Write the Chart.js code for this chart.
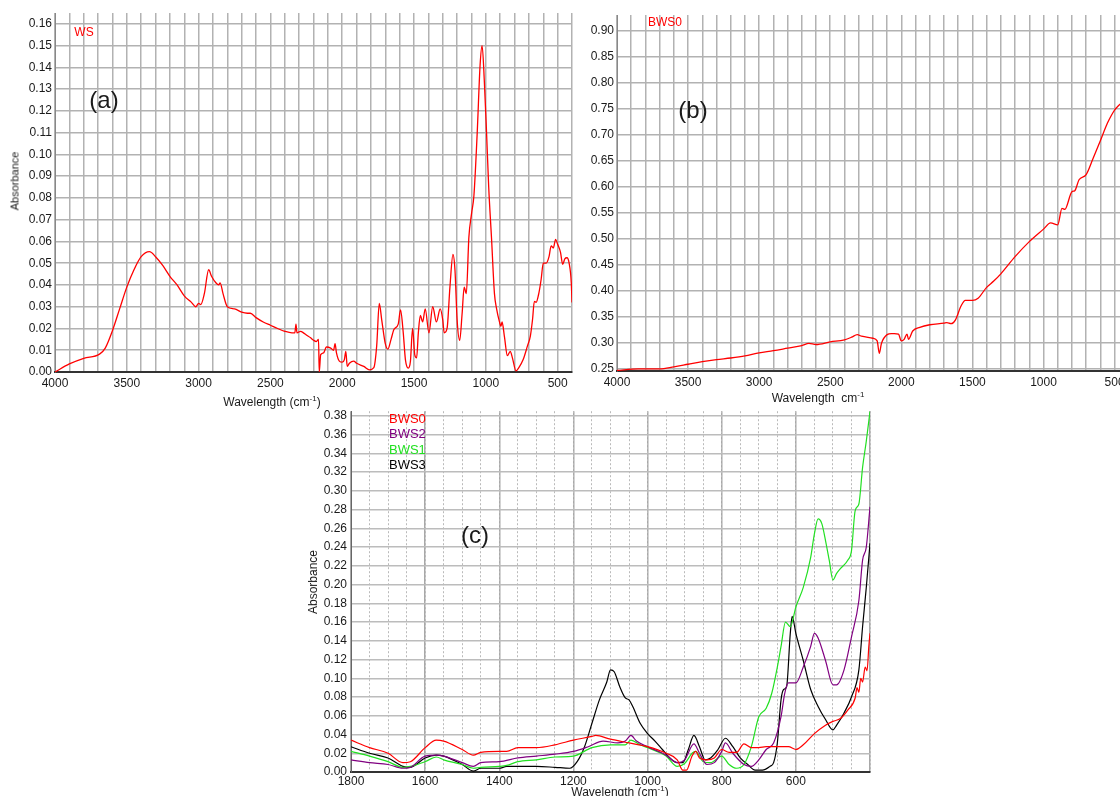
<!DOCTYPE html>
<html><head><meta charset="utf-8">
<script src="https://cdn.jsdelivr.net/npm/chart.js@4.4.1/dist/chart.umd.min.js"></script>
<style>
html,body{margin:0;padding:0;background:#fff;width:1120px;height:796px;overflow:hidden;position:relative;font-family:"Liberation Sans",Arial,sans-serif;}
canvas{position:absolute;}
.t{position:absolute;white-space:nowrap;transform:translate(-50%,-50%);line-height:1;color:#1a1a1a;}
.l{position:absolute;white-space:nowrap;line-height:1;font-size:13px;transform:translateY(-50%);}
.rot{transform:translate(-50%,-50%) rotate(-90deg);}
sup{font-size:8px;vertical-align:5px;line-height:0;}
</style></head><body>
<canvas id="ca" width="580" height="410" style="left:0;top:0"></canvas>
<canvas id="cb" width="570" height="410" style="left:580px;top:0"></canvas>
<canvas id="cc" width="580" height="396" style="left:300px;top:400px"></canvas>

<div class="t" style="left:84px;top:32px;font-size:12px;color:#ff0000">WS</div>
<div class="t" style="left:104px;top:100px;font-size:24px">(a)</div>
<div class="t rot" style="left:15px;top:181px;font-size:11px">Absorbance</div>
<div class="t" style="left:272px;top:402px;font-size:12px">Wavelength (cm<sup>-1</sup>)</div>

<div class="t" style="left:665px;top:22px;font-size:12px;color:#ff0000">BWS0</div>
<div class="t" style="left:693px;top:110px;font-size:24px">(b)</div>
<div class="t" style="left:818px;top:398px;font-size:12px">Wavelength&nbsp; cm<sup>-1</sup></div>

<div class="t" style="left:475px;top:535px;font-size:24px">(c)</div>
<div class="l" style="left:389px;top:418px;color:#ff0000">BWS0</div>
<div class="l" style="left:389px;top:433px;color:#800080">BWS2</div>
<div class="l" style="left:389px;top:449px;color:#22e022">BWS1</div>
<div class="l" style="left:389px;top:464px;color:#000">BWS3</div>
<div class="t rot" style="left:313px;top:582px;font-size:12px">Absorbance</div>
<div class="t" style="left:620px;top:792px;font-size:12px">Wavelength (cm<sup>-1</sup>)</div>

<script>
// ---------- Panel (a): WS ----------
const wsWave = [
  4000,3900,3800,3690,3650,3600,3550,3500,3450,3400,
  3342,3300,3250,3200,3150,3100,3050,3020,3000,2985,
  2960,2930,2910,2880,2860,2850,2830,2800,2750,2700,
  2660,2640,2600,2550,2500,2450,2400,2350,2330,2322,
  2315,2290,2270,2250,2220,2200,2180,2165,2160,2150,
  2130,2110,2080,2060,2050,2040,2020,2000,1985,1975,
  1965,1950,1920,1900,1850,1810,1780,1760,1742,1725,
  1700,1682,1660,1640,1610,1594,1575,1560,1540,1525,
  1510,1495,1482,1470,1456,1440,1422,1396,1370,1344,
  1318,1300,1290,1270,1250,1229,1215,1200,1182,1165,
  1151,1136,1118,1099,1083,1060,1040,1026,1010,995,
  980,960,940,925,905,895,887,870,850,830,
  815,790,770,740,710,690,675,662,650,630,
  615,600,580,560,545,530,514,500,480,465,
  450,435,420,405,400];
const wsAbs = [
  0.000,0.0037,0.0063,0.0082,0.011,0.019,0.029,0.039,0.047,0.053,
  0.0553,0.053,0.049,0.044,0.040,0.035,0.032,0.030,0.0315,0.031,
  0.036,0.047,0.044,0.041,0.040,0.041,0.036,0.030,0.029,0.0275,
  0.027,0.027,0.025,0.023,0.0215,0.020,0.0187,0.018,0.018,0.022,
  0.018,0.0187,0.018,0.017,0.0157,0.0146,0.014,0.015,0.000,0.008,
  0.0088,0.0115,0.011,0.010,0.013,0.0088,0.005,0.0045,0.0057,0.0095,
  0.0026,0.004,0.005,0.004,0.0026,0.001,0.002,0.012,0.0315,0.024,
  0.013,0.0105,0.015,0.0195,0.022,0.0285,0.018,0.0057,0.0018,0.005,
  0.020,0.008,0.0065,0.018,0.026,0.023,0.029,0.018,0.030,0.023,
  0.029,0.024,0.018,0.020,0.039,0.054,0.047,0.024,0.0145,0.027,
  0.039,0.036,0.062,0.073,0.081,0.110,0.141,0.150,0.133,0.110,
  0.085,0.061,0.036,0.029,0.023,0.021,0.023,0.016,0.0075,0.0095,
  0.0065,0.0005,0.002,0.0057,0.012,0.0165,0.024,0.0325,0.032,0.0365,
  0.0425,0.050,0.050,0.053,0.058,0.057,0.061,0.0587,0.055,0.0495,
  0.052,0.0525,0.050,0.041,0.032];

// ---------- Panel (b): BWS0 ----------
const bwsWave = [
  4000,3850,3700,3600,3500,3400,3300,3200,3100,3000,
  2900,2800,2700,2650,2600,2500,2400,2350,2310,2280,
  2200,2170,2155,2140,2100,2070,2050,2020,2000,1980,
  1960,1950,1920,1870,1800,1700,1680,1650,1620,1580,
  1550,1500,1460,1400,1350,1300,1200,1100,1000,950,
  900,870,850,800,780,750,700,650,600,550,
  520,500,450,400,350,300];
const bwsAbs = [
  0.246,0.249,0.249,0.253,0.258,0.263,0.267,0.270,0.274,0.280,
  0.284,0.289,0.294,0.298,0.296,0.301,0.305,0.310,0.315,0.312,
  0.308,0.303,0.279,0.298,0.315,0.317,0.317,0.316,0.303,0.306,
  0.316,0.306,0.322,0.329,0.334,0.337,0.338,0.336,0.343,0.370,
  0.381,0.381,0.385,0.406,0.418,0.432,0.465,0.494,0.518,0.530,
  0.526,0.558,0.556,0.590,0.592,0.613,0.623,0.655,0.688,0.722,
  0.738,0.747,0.762,0.78,0.80,0.82];

// ---------- Panel (c): four samples ----------
const cLabels = ['BWS0','BWS2','BWS1','BWS3'];
const c0Wave = [1800,1750,1700,1660,1640,1600,1570,1550,1500,1470,
  1450,1400,1380,1350,1300,1250,1200,1150,1140,1100,
  1050,1000,950,920,905,895,880,870,860,840,
  820,800,780,760,740,720,700,680,650,620,
  600,580,550,520,500,480,460,440,435,430,
  425,420,413,408,403,400];
const c0Abs = [0.034,0.026,0.020,0.010,0.011,0.026,0.034,0.033,0.024,0.018,
  0.021,0.022,0.022,0.026,0.026,0.029,0.034,0.038,0.039,0.035,
  0.031,0.027,0.020,0.013,0.002,0.002,0.017,0.022,0.015,0.013,
  0.015,0.024,0.021,0.021,0.030,0.026,0.026,0.027,0.027,0.027,
  0.024,0.029,0.041,0.050,0.054,0.057,0.066,0.079,0.090,0.085,
  0.100,0.096,0.112,0.108,0.135,0.148];
const c2Wave = [1800,1750,1700,1660,1640,1600,1570,1550,1500,1470,
  1450,1400,1350,1300,1250,1200,1160,1120,1080,1060,
  1045,1030,1000,950,920,900,875,860,840,820,
  800,790,770,740,720,700,680,660,640,630,
  620,600,580,560,550,540,520,500,490,470,
  450,430,420,410,400];
const c2Abs = [0.013,0.010,0.008,0.004,0.005,0.017,0.018,0.017,0.010,0.006,
  0.010,0.011,0.015,0.017,0.019,0.022,0.027,0.033,0.031,0.033,
  0.039,0.033,0.027,0.018,0.010,0.013,0.030,0.020,0.008,0.010,
  0.022,0.031,0.020,0.008,0.006,0.013,0.024,0.031,0.059,0.084,
  0.095,0.095,0.112,0.134,0.148,0.143,0.119,0.093,0.093,0.109,
  0.144,0.183,0.226,0.240,0.283];
const c1Wave = [1800,1750,1700,1660,1640,1600,1570,1550,1500,1470,
  1450,1400,1380,1350,1300,1250,1200,1150,1100,1060,
  1045,1020,1000,950,920,900,880,870,850,830,
  800,780,760,740,720,700,680,665,650,640,
  628,615,600,580,560,550,540,530,520,510,
  500,490,480,460,450,440,430,420,410,400];
const c1Abs = [0.022,0.017,0.011,0.005,0.006,0.011,0.016,0.013,0.008,0.004,
  0.005,0.006,0.007,0.011,0.013,0.016,0.017,0.026,0.029,0.029,
  0.034,0.029,0.026,0.017,0.006,0.009,0.020,0.022,0.011,0.010,
  0.017,0.008,0.004,0.008,0.027,0.059,0.068,0.084,0.112,0.134,
  0.160,0.155,0.176,0.197,0.229,0.254,0.270,0.265,0.247,0.226,
  0.205,0.212,0.217,0.226,0.236,0.279,0.286,0.325,0.353,0.385];
const c3Wave = [1800,1750,1700,1660,1640,1600,1570,1550,1500,1470,
  1450,1400,1380,1300,1250,1210,1190,1170,1150,1130,
  1110,1100,1090,1075,1060,1050,1040,1020,1000,980,
  960,940,920,905,890,875,860,845,830,810,
  790,770,750,730,710,690,670,660,650,640,
  633,625,615,610,600,580,560,540,520,500,
  490,470,450,430,420,410,400];
const c3Abs = [0.027,0.020,0.015,0.006,0.005,0.015,0.018,0.017,0.008,0.001,
  0.004,0.004,0.006,0.006,0.005,0.004,0.011,0.027,0.052,0.077,
  0.096,0.109,0.107,0.091,0.079,0.077,0.070,0.052,0.041,0.033,
  0.024,0.015,0.010,0.010,0.024,0.039,0.027,0.013,0.015,0.024,
  0.036,0.027,0.015,0.008,0.002,0.002,0.006,0.010,0.031,0.077,
  0.088,0.091,0.148,0.166,0.148,0.119,0.088,0.070,0.056,0.045,
  0.050,0.063,0.080,0.109,0.155,0.197,0.244];

const pts = (xs, ys) => xs.map((x, i) => ({x: x, y: ys[i]}));
const FONT = {family: '"Liberation Sans", Arial, sans-serif', size: 12};
const TICKCOL = '#1a1a1a';
const GRID = '#b2b2b2';
const GW = 1.5;
Chart.defaults.font.family = FONT.family;

function lineDs(label, xs, ys, color, w) {
  return {label, data: pts(xs, ys), borderColor: color, backgroundColor: color,
    borderWidth: w, pointRadius: 0, fill: false, cubicInterpolationMode: 'monotone'};
}

function common(padding) {
  return {
    responsive: false, animation: false, devicePixelRatio: 1,
    layout: {padding},
    plugins: {legend: {display: false}, tooltip: {enabled: false}},
    events: []
  };
}

// Panel (a)
new Chart(document.getElementById('ca'), {
  type: 'line',
  data: {datasets: [lineDs('WS', wsWave, wsAbs, '#ff0000', 1.3)]},
  options: Object.assign(common({top: 13, right: 8, left: 0, bottom: 0}), {
    scales: {
      x: {type: 'linear', reverse: true, min: 400, max: 4000,
        afterFit: s => { s.height = 38; },
        ticks: {stepSize: 100, autoSkip: false, maxRotation: 0, padding: 4, font: FONT, color: TICKCOL,
          callback: v => (Math.round(v) % 500 === 0) ? String(Math.round(v)) : ''},
        grid: {color: GRID, lineWidth: GW, drawTicks: false},
        border: {color: '#333', width: 2}},
      y: {type: 'linear', min: 0, max: 0.165,
        afterFit: s => { s.width = 55; },
        ticks: {stepSize: 0.01, includeBounds: false, autoSkip: false, padding: 3, font: FONT, color: TICKCOL,
          callback: v => v.toFixed(2)},
        grid: {color: GRID, lineWidth: GW, drawTicks: false},
        border: {color: '#888', width: 1}}
    }
  })
});

// Panel (b)
new Chart(document.getElementById('cb'), {
  type: 'line',
  data: {datasets: [lineDs('BWS0', bwsWave, bwsAbs, '#ff0000', 1.3)]},
  options: Object.assign(common({top: 15, right: 7, left: 0, bottom: 0}), {
    scales: {
      x: {type: 'linear', reverse: true, min: 300, max: 4000,
        afterFit: s => { s.height = 39; },
        ticks: {stepSize: 100, autoSkip: false, maxRotation: 0, padding: 4, font: FONT, color: TICKCOL,
          callback: v => (Math.round(v) % 500 === 0) ? String(Math.round(v)) : ''},
        grid: {color: GRID, lineWidth: GW, drawTicks: false},
        border: {color: '#333', width: 2}},
      y: {type: 'linear', min: 0.245, max: 0.93,
        afterFit: s => { s.width = 37; },
        ticks: {stepSize: 0.05, includeBounds: false, autoSkip: false, padding: 3, font: FONT, color: TICKCOL,
          callback: v => v.toFixed(2)},
        grid: {color: GRID, lineWidth: GW, drawTicks: false},
        border: {color: '#888', width: 1}}
    }
  })
});

// Panel (c)
new Chart(document.getElementById('cc'), {
  type: 'line',
  data: {datasets: [
    lineDs(cLabels[0], c0Wave, c0Abs, '#ff0000', 1.2),
    lineDs(cLabels[1], c2Wave, c2Abs, '#800080', 1.2),
    lineDs(cLabels[2], c1Wave, c1Abs, '#22e022', 1.2),
    lineDs(cLabels[3], c3Wave, c3Abs, '#000000', 1.2)
  ]},
  options: Object.assign(common({top: 10, right: 10, left: 0, bottom: 0}), {
    scales: {
      x: {type: 'linear', reverse: true, min: 400, max: 1800, position: 'bottom',
        afterFit: s => { s.height = 24; },
        ticks: {stepSize: 200, autoSkip: false, maxRotation: 0, padding: 2, font: FONT, color: TICKCOL,
          callback: v => (v >= 600) ? String(Math.round(v)) : ''},
        grid: {color: '#a8a8a8', lineWidth: GW, drawTicks: false},
        border: {color: '#333', width: 2}},
      xMinor: {type: 'linear', reverse: true, min: 400, max: 1800, position: 'bottom',
        afterFit: s => { s.height = 0; },
        ticks: {display: false, stepSize: 50, autoSkip: false},
        grid: {color: '#bababa', lineWidth: 1, drawTicks: false, borderDash: [2, 2]},
        border: {display: false, dash: [2, 2]}},
      y: {type: 'linear', min: 0, max: 0.385,
        afterFit: s => { s.width = 51; },
        ticks: {stepSize: 0.02, includeBounds: false, autoSkip: false, padding: 4, font: FONT, color: TICKCOL,
          callback: v => v.toFixed(2)},
        grid: {color: '#bcbcbc', lineWidth: GW, drawTicks: false},
        border: {color: '#666', width: 1}}
    }
  })
});
</script>
</body></html>
